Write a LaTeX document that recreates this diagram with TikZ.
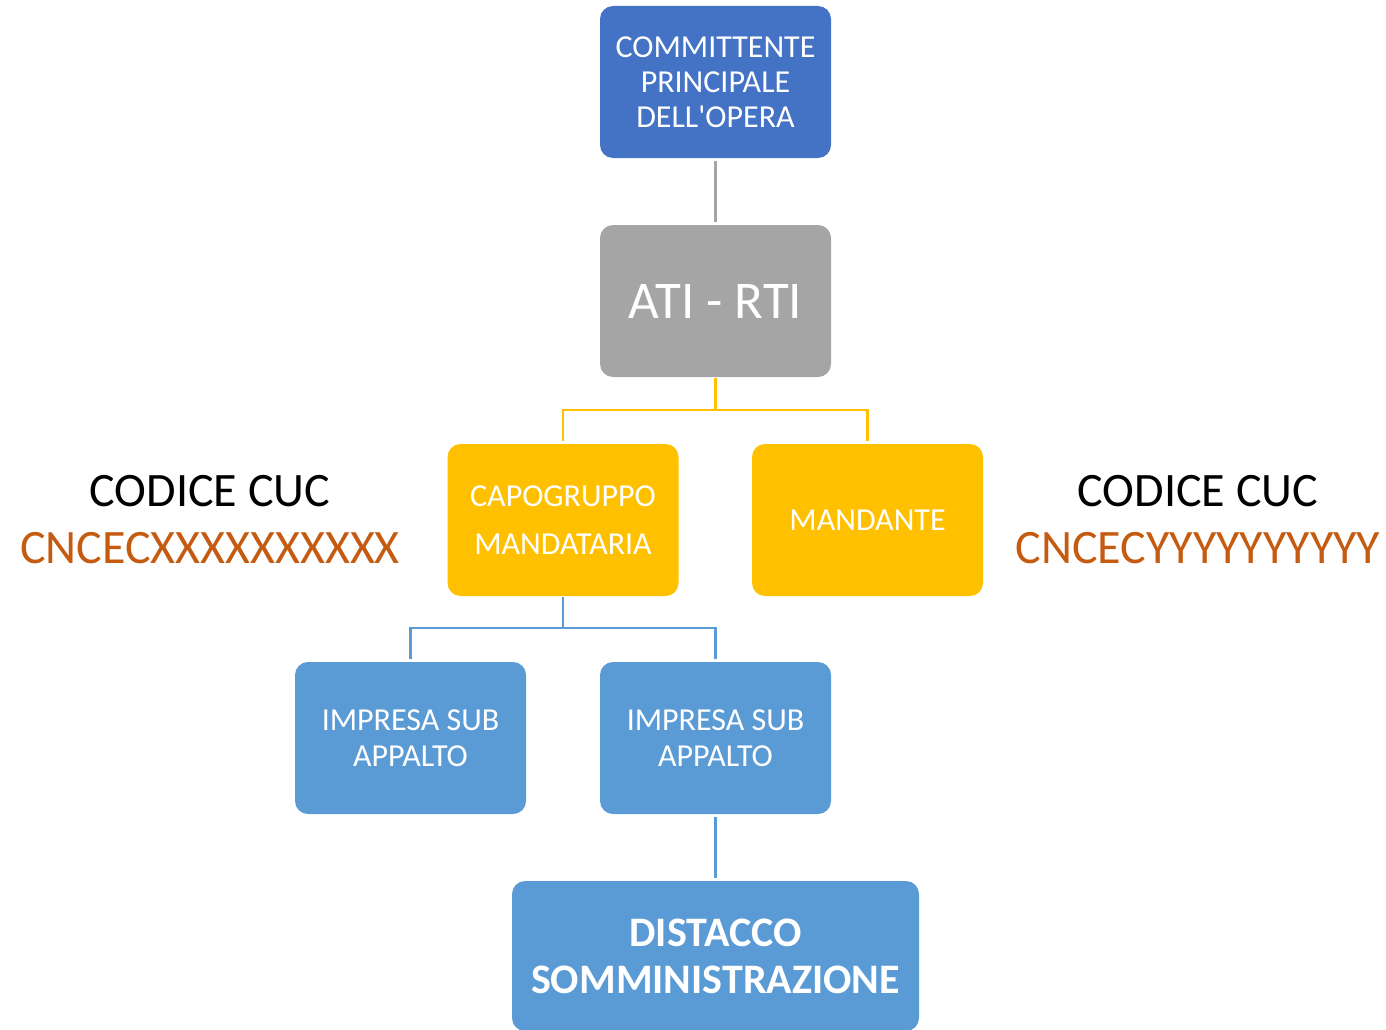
\documentclass[tikz,border=0pt]{standalone}
\usepackage{fontspec}
\setmainfont{Carlito}[Ligatures=TeXOff]
\definecolor{cblue}{HTML}{4472C4}
\definecolor{cgray}{HTML}{A5A5A5}
\definecolor{cgold}{HTML}{FFC000}
\definecolor{clblue}{HTML}{5B9BD5}
\definecolor{corange}{HTML}{C55A11}
\tikzset{
  box/.style={rounded corners=13pt, minimum width=231pt, minimum height=152pt,
    inner sep=0pt, align=center, text=white, draw=none},
  link/.style={line width=2.6pt},
}
\begin{document}
\begin{tikzpicture}[x=1pt,y=-1pt]
\useasboundingbox (0,0) rectangle (1386,1030);
\node[box, fill=cblue, font=\fontsize{32}{35}\selectfont] (comm) at (715.5,82)
  {COMMITTENTE\\PRINCIPALE\\DELL'OPERA};
\node[box, fill=cgray, font=\fontsize{53}{60}\selectfont] (ati) at (715.5,301) {ATI - RTI};
\node[box, fill=cgold, font=\fontsize{32}{48}\selectfont] (capo) at (563,520)
  {CAPOGRUPPO\\MANDATARIA};
\node[box, fill=cgold, font=\fontsize{32}{36}\selectfont] (mand) at (867.5,520) {MANDANTE};
\node[box, fill=clblue, font=\fontsize{32}{36}\selectfont] (impl) at (410.5,738)
  {IMPRESA SUB\\APPALTO};
\node[box, fill=clblue, font=\fontsize{32}{36}\selectfont] (impr) at (715.5,738)
  {IMPRESA SUB\\APPALTO};
\node[box, fill=clblue, minimum width=407pt, minimum height=150pt,
  font=\bfseries\fontsize{42}{47}\selectfont] (dist) at (715.5,956)
  {DISTACCO\\SOMMINISTRAZIONE};
\node[align=center, font=\fontsize{48}{57}\selectfont] (cucl) at (210,520)
  {CODICE CUC\\\textcolor{corange}{CNCECXXXXXXXXXX}};
\node[align=center, font=\fontsize{48}{57}\selectfont] (cucr) at (1198,520)
  {CODICE CUC\\\textcolor{corange}{CNCECYYYYYYYYYY}};
\coordinate (ybar) at (715.5,410);
\coordinate (bbar) at (563,628);
\draw[link, cgray, shorten <=3pt, shorten >=3pt] (comm.south) -- (ati.north);
\draw[link, cgold, shorten <=1pt] (ati.south) -- (ybar);
\draw[link, cgold, shorten >=3pt] (ybar) -| (capo.north);
\draw[link, cgold, shorten >=3pt] (ybar) -| (mand.north);
\draw[link, clblue, shorten <=1pt] (capo.south) -- (bbar);
\draw[link, clblue, shorten >=3pt] (bbar) -| (impl.north);
\draw[link, clblue, shorten >=3pt] (bbar) -| (impr.north);
\draw[link, clblue, shorten <=3pt, shorten >=3pt] (impr.south) -- (dist.north);
\end{tikzpicture}
\end{document}
